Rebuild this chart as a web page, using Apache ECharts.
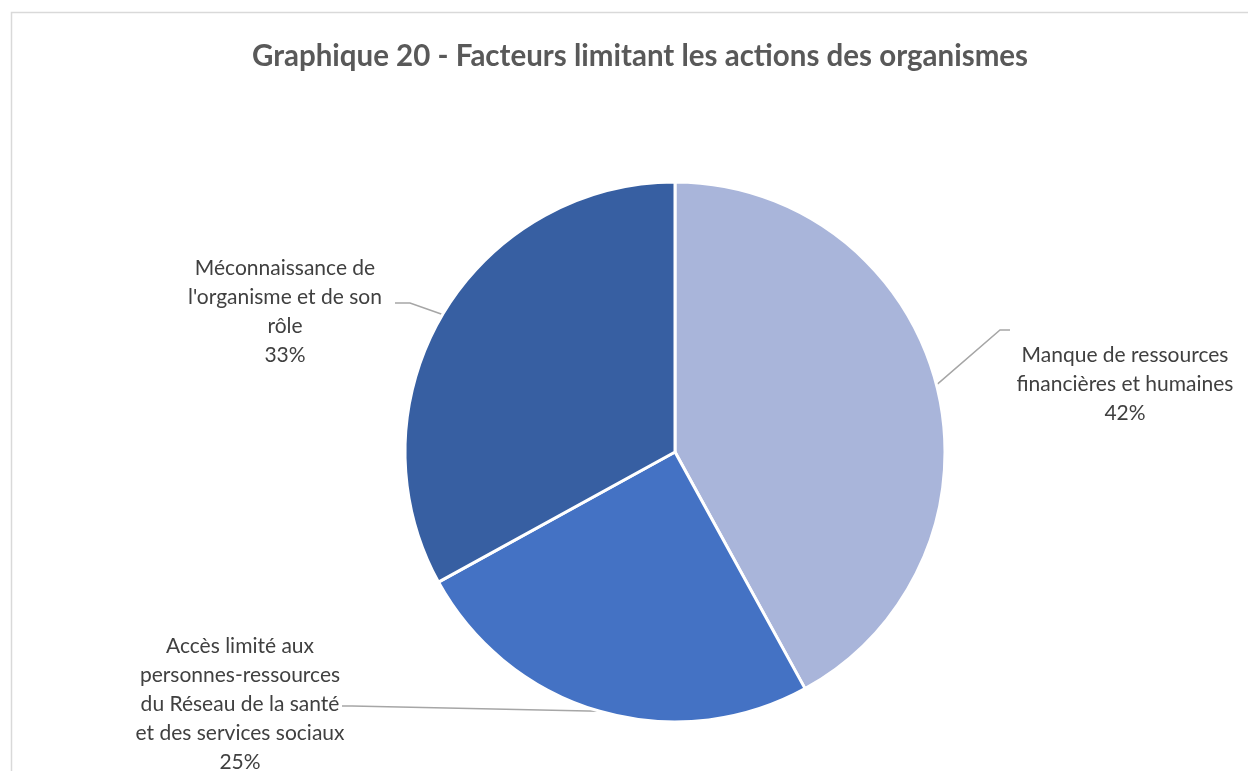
<!DOCTYPE html>
<html>
<head>
<meta charset="utf-8">
<script src="https://cdn.jsdelivr.net/npm/echarts@6/dist/echarts.min.js"></script>
<style>html,body{margin:0;padding:0;background:#fff;}#c{width:1248px;height:771px;}</style>
</head>
<body>
<div id="c"></div>
<script>
const categories = [
  "Manque de ressources\nfinancières et humaines",
  "Accès limité aux\npersonnes-ressources\ndu Réseau de la santé\net des services sociaux",
  "Méconnaissance de\nl'organisme et de son\nrôle"
];
const values = [42, 25, 33];
const colors = ['#A9B5DA', '#4472C4', '#375FA2'];
const labelPos = [[1125, 384], [240, 704], [285, 312]];
const lineBends = [[[1000, 330], [1010, 330]], [[352, 706], [342, 706]], [[410, 303], [395, 303]]];

const chart = echarts.init(document.getElementById('c'));
const FONT = 'Lato';
chart.setOption({
  animation: false,
  title: {
    text: 'Graphique 20 - Facteurs limitant les actions des organismes',
    left: 635, top: 36, textAlign: 'center',
    textStyle: {fontFamily: FONT, fontWeight: 'bold', fontSize: 29.5, color: '#595959'}
  },
  graphic: [{type: 'rect', shape: {x: 11.5, y: 12.5, width: 1400, height: 900}, style: {fill: 'none', stroke: '#d9d9d9', lineWidth: 1.5}, silent: true}],
  series: [{
    type: 'pie',
    center: [675, 452],
    radius: 270,
    startAngle: 90,
    clockwise: true,
    data: categories.map((n, i) => ({name: n, value: values[i], itemStyle: {color: colors[i]}})),
    itemStyle: {borderColor: '#fff', borderWidth: 3},
    label: {
      show: true,
      formatter: '{b}\n{c}%',
      fontFamily: FONT, fontSize: 21, color: '#404040', lineHeight: 29, align: 'center'
    },
    labelLine: {show: true, lineStyle: {color: '#a6a6a6', width: 1.5}},
    labelLayout: function (p) {
      const i = p.dataIndex;
      const pts = [p.labelLinePoints[0]].concat(lineBends[i]);
      return {x: labelPos[i][0], y: labelPos[i][1], align: 'center', verticalAlign: 'middle', labelLinePoints: pts};
    }
  }]
});
</script>
</body>
</html>
